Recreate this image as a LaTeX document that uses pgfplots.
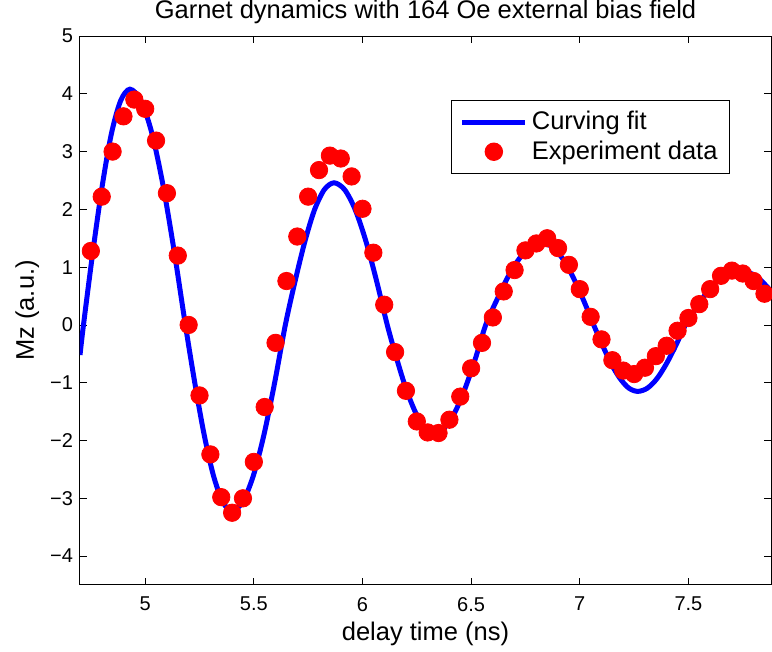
\documentclass[border=0pt]{standalone}
\usepackage{fontspec}
\setmainfont{Liberation Sans}
\usepackage{pgfplots}
\pgfplotsset{compat=1.18}
\pgfplotsset{
  linelegend/.style={legend image code/.code={\draw[##1] (0pt,0pt) -- (31.5pt,0pt);}},
  marklegend/.style={legend image code/.code={\draw[##1] plot coordinates {(15.75pt,0pt)};}},
}
\begin{document}
\begin{tikzpicture}
\begin{axis}[
  scale only axis=true,
  width=345.5pt, height=274.5pt,
  xmin=4.70, xmax=7.88, ymin=-4.5, ymax=5,
  xtick={5,5.5,6,6.5,7,7.5},
  xticklabels={5,5.5,6,6.5,7,7.5},
  ytick={-4,-3,-2,-1,0,1,2,3,4,5},
  yticklabels={−4,−3,−2,−1,0,1,2,3,4,5},
  tick align=inside,
  xtick pos=both, ytick pos=both,
  xticklabel pos=lower, yticklabel pos=left,
  major tick length=3.5pt,
  tick style={black, line width=0.4pt},
  axis line style={black, line width=0.5pt},
  tick label style={font=\fontsize{10}{12}\selectfont},
  xticklabel style={yshift=-2.5pt},
  label style={font=\fontsize{12.75}{15}\selectfont},
  xlabel={delay time (ns)},
  ylabel={Mz (a.u.)},
  xlabel style={at={(axis description cs:0.5,-0.102)}, anchor=base},
  ylabel style={at={(axis description cs:-0.0666,0.5)}, anchor=base},
  legend style={at={(axis description cs:0.9407,0.8834)}, anchor=north east,
    draw=black, line width=0.5pt, fill=white,
    font=\fontsize{12.75}{15}\selectfont,
    inner xsep=4pt, inner ysep=3.5pt, row sep=0pt},
  legend cell align=left,
]
\addplot[blue, line width=2.5pt, smooth, no markers, linelegend]
coordinates {
(4.700,-0.52) (4.716,0) (4.759,1.261) (4.802,2.399) (4.844,3.301) (4.887,3.880)
(4.930,4.080) (4.981,3.880) (5.032,3.301) (5.083,2.399) (5.134,1.261) (5.185,0)
(5.228,-0.995) (5.271,-1.893) (5.314,-2.605) (5.357,-3.062) (5.400,-3.220)
(5.449,-3.062) (5.498,-2.605) (5.547,-1.893) (5.596,-0.995) (5.645,0)
(5.690,0.760) (5.735,1.446) (5.779,1.990) (5.824,2.340) (5.869,2.460)
(5.918,2.340) (5.967,1.990) (6.016,1.446) (6.065,0.760) (6.114,0)
(6.157,-0.578) (6.200,-1.100) (6.244,-1.513) (6.287,-1.778) (6.330,-1.870)
(6.377,-1.778) (6.425,-1.513) (6.472,-1.100) (6.520,-0.578) (6.567,0)
(6.619,0.439) (6.670,0.835) (6.722,1.149) (6.773,1.350) (6.825,1.420)
(6.873,1.350) (6.921,1.149) (6.968,0.835) (7.016,0.439) (7.064,0)
(7.105,-0.355) (7.145,-0.676) (7.186,-0.930) (7.226,-1.094) (7.267,-1.150)
(7.311,-1.094) (7.355,-0.930) (7.398,-0.676) (7.442,-0.355) (7.486,0)
(7.535,0.294) (7.584,0.559) (7.632,0.769) (7.681,0.903) (7.730,0.950)
(7.782,0.903) (7.834,0.769) (7.886,0.559)
};
\addlegendentry{Curving fit}
\addplot[only marks, mark=*, mark size=4.35pt, red, mark options={draw=red, fill=red}, marklegend]
table {
x y
4.75 1.28
4.80 2.22
4.85 3.00
4.90 3.61
4.95 3.90
5.00 3.74
5.05 3.19
5.10 2.28
5.15 1.20
5.20 0.00
5.25 -1.22
5.30 -2.24
5.35 -2.98
5.40 -3.25
5.45 -3.00
5.50 -2.37
5.55 -1.42
5.60 -0.31
5.65 0.76
5.70 1.53
5.75 2.22
5.80 2.68
5.85 2.93
5.90 2.88
5.95 2.57
6.00 2.01
6.05 1.25
6.10 0.35
6.15 -0.47
6.20 -1.14
6.25 -1.67
6.30 -1.86
6.35 -1.87
6.40 -1.64
6.45 -1.24
6.50 -0.75
6.55 -0.31
6.60 0.13
6.65 0.58
6.70 0.95
6.75 1.29
6.80 1.41
6.85 1.50
6.90 1.33
6.95 1.04
7.00 0.62
7.05 0.14
7.10 -0.25
7.15 -0.61
7.20 -0.79
7.25 -0.85
7.30 -0.74
7.35 -0.54
7.40 -0.36
7.45 -0.10
7.50 0.12
7.55 0.36
7.60 0.62
7.65 0.85
7.70 0.94
7.75 0.89
7.80 0.76
7.85 0.54
};
\addlegendentry{Experiment data}
\end{axis}
\node[anchor=base, font=\fontsize{12.75}{15}\selectfont, inner sep=0pt] at ([yshift=9pt]current axis.north) {Garnet dynamics with 164 Oe external bias field};
\pgfresetboundingbox
\path ([shift={(-40pt,-33.5pt)}]current axis.south west) rectangle ([shift={(0.5pt,18pt)}]current axis.north east);
\end{tikzpicture}
\end{document}
